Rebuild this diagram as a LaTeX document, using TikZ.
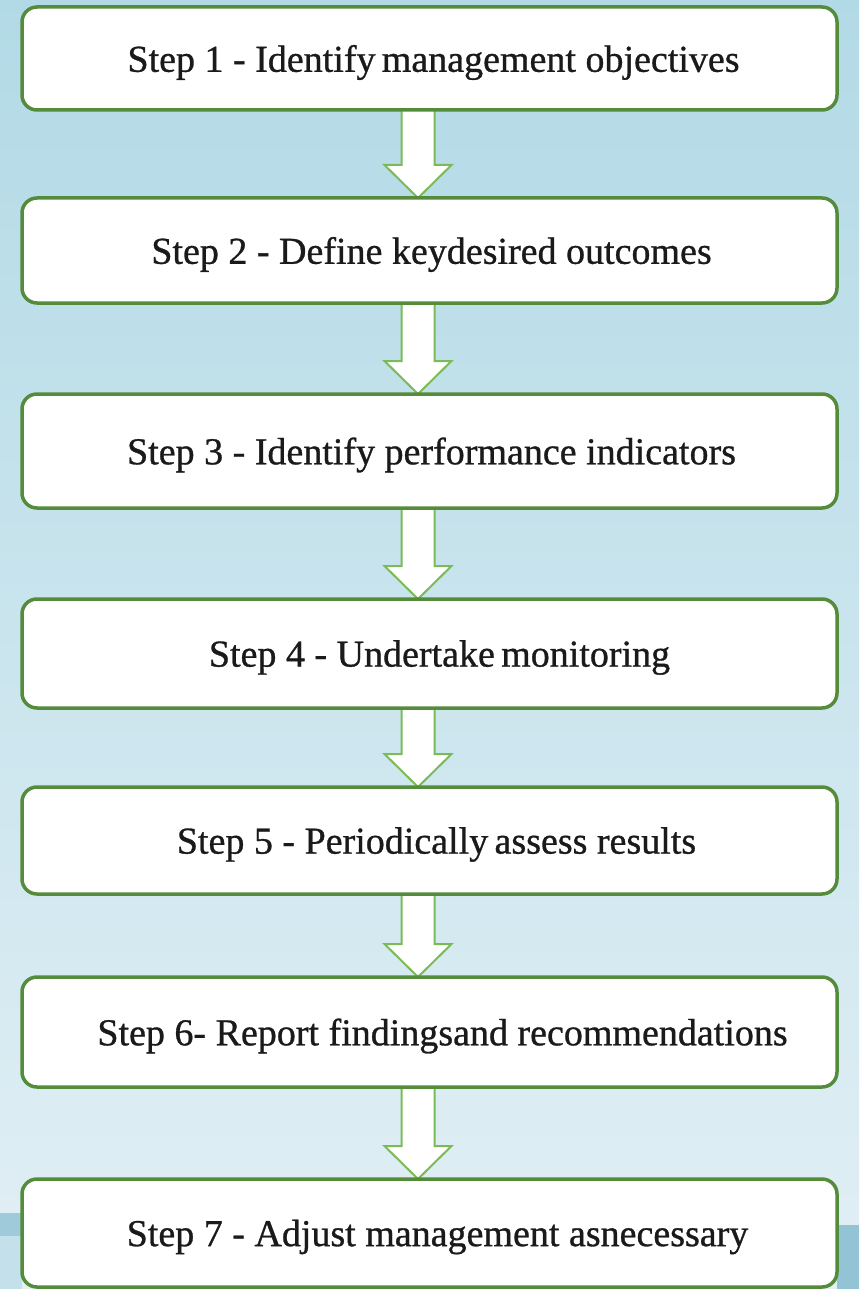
\documentclass[tikz,border=0pt]{standalone}
\usepackage{fontspec}
\setmainfont{Liberation Serif}
\newfontfamily\stepfont[FakeBold=0.8]{Liberation Serif}
\usetikzlibrary{calc,backgrounds}
\definecolor{bgtop}{HTML}{B2DAE6}
\definecolor{bgbot}{HTML}{E2EFF5}
\definecolor{boxline}{HTML}{558C3B}
\definecolor{arrline}{HTML}{7BBB55}
\definecolor{txt}{HTML}{1A1A1A}
\definecolor{bandA}{HTML}{9FCADA}
\definecolor{bandB}{HTML}{C4E0EA}
\definecolor{bandC}{HTML}{93C4D6}
\tikzset{
  stepbox/.style={draw=boxline, line width=3.5pt, fill=white, rounded corners=15pt,
    minimum width=815pt, inner sep=0pt, outer sep=0pt},
  steptext/.style={text=txt, font=\stepfont\fontsize{38}{44}\selectfont, inner sep=0pt},
  flowarrow/.style={draw=arrline, line width=2pt, fill=white, line join=miter}
}
\newcommand{\blockarrow}[2]{%
  \path[flowarrow] let \p1=(#1.south), \p2=(#2.north), \n1={\x1-11.5pt} in
    (\n1-16.5pt,\y1) -- (\n1-16.5pt,\y2+33pt) -- (\n1-33.5pt,\y2+33pt) -- (\n1,\y2)
    -- (\n1+33.5pt,\y2+33pt) -- (\n1+16.5pt,\y2+33pt) -- (\n1+16.5pt,\y1) -- cycle;}
\begin{document}
\begin{tikzpicture}[x=1pt,y=-1pt]
\useasboundingbox (0,0) rectangle (859,1289);
\node[stepbox, minimum height=103pt] (b1) at (429.5,58.5) {};
\node[stepbox, minimum height=105pt] (b2) at (429.5,250.5) {};
\node[stepbox, minimum height=114pt] (b3) at (429.5,451) {};
\node[stepbox, minimum height=109pt] (b4) at (429.5,653.5) {};
\node[stepbox, minimum height=107pt] (b5) at (429.5,840.5) {};
\node[stepbox, minimum height=110pt] (b6) at (429.5,1032) {};
\node[stepbox, minimum height=108pt] (b7) at (429.5,1233) {};
\node[steptext] (t1) at ($(b1.center)+(4,4)$) {Step 1 - Identify\,management objectives};
\node[steptext] (t2) at ($(b2.center)+(2,4)$) {Step 2 - Define keydesired outcomes};
\node[steptext] (t3) at ($(b3.center)+(2,4)$) {Step 3 - Identify performance indicators};
\node[steptext] (t4) at ($(b4.center)+(10,4)$) {Step 4 - Undertake\,monitoring};
\node[steptext] (t5) at ($(b5.center)+(7,4)$) {Step 5 - Periodically\,assess results};
\node[steptext] (t6) at ($(b6.center)+(13,4)$) {Step 6- Report findingsand recommendations};
\node[steptext] (t7) at ($(b7.center)+(8,4)$) {Step 7 - Adjust management asnecessary};
\begin{scope}[on background layer]
  \fill[top color=bgtop, bottom color=bgbot] (0,0) rectangle (859,1289);
  \fill[bandA] (0,1213) rectangle (22,1236);
  \fill[bandB] (0,1236) rectangle (22,1289);
  \fill[bandC] (837,1225) rectangle (859,1289);
  \blockarrow{b1}{b2}
  \blockarrow{b2}{b3}
  \blockarrow{b3}{b4}
  \blockarrow{b4}{b5}
  \blockarrow{b5}{b6}
  \blockarrow{b6}{b7}
\end{scope}
\end{tikzpicture}
\end{document}
